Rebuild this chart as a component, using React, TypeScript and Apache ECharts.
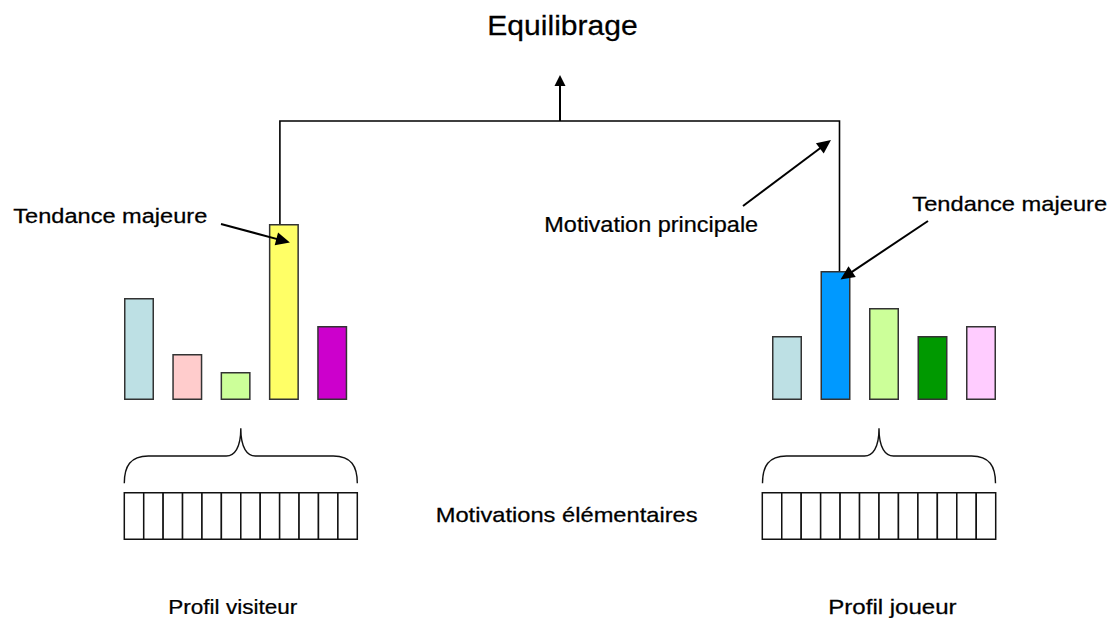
import React, { useEffect, useRef } from "react";
import * as echarts from "echarts";

// ---- data ----
const categories = ["M1", "M2", "M3", "M4", "M5"];
const visitorValues = [102, 46, 28, 176, 74];
const playerValues = [64, 129, 92, 64, 74];
const visitorColors = ["#BDE0E4", "#FFCCCC", "#CCFF99", "#FFFF66", "#CC00CC"];
const playerColors = ["#BDE0E4", "#0099FF", "#CCFF99", "#009900", "#FFCCFF"];
const visitorMajor = 3;
const playerMajor = 1;
const CELL_COUNT = 12;

const titleText = "Equilibrage";
const majorText = "Tendance majeure";
const mainText = "Motivation principale";
const elemText = "Motivations élémentaires";
const visitorLabel = "Profil visiteur";
const playerLabel = "Profil joueur";

const FONT = '"Liberation Sans", Arial, sans-serif';

const braceD =
  "M0,55 C0,38 6,27.7 24,27.7 L102,27.7 C110,27.7 116.5,20 116.5,0 C116.5,20 123,27.7 131,27.7 L209,27.7 C227,27.7 233,38 233,55";
echarts.graphic.registerShape("brace", echarts.graphic.extendPath(braceD, {}));

function measure(text: string, size: number) {
  const c = document.createElement("canvas").getContext("2d")!;
  c.font = `${size}px "Liberation Sans"`;
  return c.measureText(text).width;
}

function txt(text: string, left: number, cy: number, size: number, width: number) {
  const w = measure(text, size);
  return {
    type: "text",
    x: left,
    y: cy,
    z: 100,
    scaleX: width / w,
    silent: true,
    style: {
      text,
      fontSize: size,
      fontFamily: FONT,
      fill: "#000",
      stroke: "#000",
      lineWidth: 0.25,
      textAlign: "left",
      textVerticalAlign: "middle",
      verticalAlign: "middle",
    },
  };
}

function arrow(x1: number, y1: number, x2: number, y2: number, len = 12, half = 5.5, lw = 2) {
  const dx = x2 - x1;
  const dy = y2 - y1;
  const d = Math.sqrt(dx * dx + dy * dy);
  const ux = dx / d;
  const uy = dy / d;
  const bx = x2 - ux * len;
  const by = y2 - uy * len;
  return [
    {
      type: "line",
      silent: true,
      z: 100,
      shape: { x1, y1, x2: bx + ux * 2, y2: by + uy * 2 },
      style: { stroke: "#000", lineWidth: lw },
    },
    {
      type: "polygon",
      silent: true,
      z: 100,
      shape: {
        points: [
          [x2, y2],
          [bx - uy * half, by + ux * half],
          [bx + uy * half, by - ux * half],
        ],
      },
      style: { fill: "#000" },
    },
  ];
}

function cells(left: number, width: number, top: number, height: number) {
  const w = width / CELL_COUNT;
  const out: any[] = [];
  for (let i = 0; i < CELL_COUNT; i++) {
    out.push({
      type: "rect",
      silent: true,
      shape: { x: left + i * w, y: top, width: w, height },
      style: { fill: "#fff", stroke: "#111", lineWidth: 1.5 },
    });
  }
  return out;
}

export default function App() {
  const ref = useRef<HTMLDivElement>(null);
  useEffect(() => {
    const chart = echarts.init(ref.current!, null, { renderer: "svg" });
    const barSeries = (values: number[], colors: string[], idx: number) => ({
      type: "bar",
      xAxisIndex: idx,
      yAxisIndex: idx,
      barWidth: 30,
      silent: true,
      itemStyle: { borderColor: "#333", borderWidth: 1.5 },
      data: values.map((v, i) => ({ value: v, itemStyle: { color: colors[i] } })),
    });
    chart.setOption({
      animation: false,
      backgroundColor: "#fff",
      grid: [
        { left: 114.85, width: 241.5, top: 200, height: 200 },
        { left: 762.75, width: 242.5, top: 200, height: 200 },
      ],
      xAxis: [
        { type: "category", data: categories, gridIndex: 0, show: false },
        { type: "category", data: categories, gridIndex: 1, show: false },
      ],
      yAxis: [
        { type: "value", min: 0, max: 200, gridIndex: 0, show: false },
        { type: "value", min: 0, max: 200, gridIndex: 1, show: false },
      ],
      series: [
        barSeries(visitorValues, visitorColors, 0),
        barSeries(playerValues, playerColors, 1),
      ],
    });

    const vTop = chart.convertToPixel({ seriesIndex: 0 }, [visitorMajor, visitorValues[visitorMajor]]) as number[];
    const pTop = chart.convertToPixel({ seriesIndex: 1 }, [playerMajor, playerValues[playerMajor]]) as number[];
    const busY = 121;
    const lx = vTop[0] - 4;
    const rx = pTop[0] + 4;
    const midX = 560;

    const lineStyle = { stroke: "#000", lineWidth: 1.6 };
    const graphic: any[] = [
      {
        type: "polyline",
        silent: true,
        z: 100,
        shape: { points: [[lx, vTop[1]], [lx, busY], [rx, busY], [rx, pTop[1]]] },
        style: { ...lineStyle, fill: "none" },
      },
      ...arrow(midX, busY, midX, 75, 11, 5.5, 2),
      ...arrow(743, 206, 831, 140, 14, 6.5, 2),
      ...arrow(221, 224, vTop[0] + 6, 242.5, 14, 6.5, 2),
      ...arrow(928, 221, pTop[0] + 5, 279.5, 14, 6.5, 2),
      {
        type: "brace",
        silent: true,
        x: 124.3,
        y: 428.3,
        style: { fill: "none", stroke: "#111", lineWidth: 1.4 },
      },
      {
        type: "brace",
        silent: true,
        x: 762.5,
        y: 428.3,
        style: { fill: "none", stroke: "#111", lineWidth: 1.4 },
      },
      ...cells(124.3, 233, 492.7, 46.6),
      ...cells(762.3, 233.4, 492.7, 46.6),
      txt(titleText, 487.3, 25, 28, 150.4),
      txt(majorText, 13.3, 216, 20, 194),
      txt(majorText, 912.3, 204, 20, 195),
      txt(mainText, 544.3, 224, 22, 214),
      txt(elemText, 435.7, 515, 21, 262),
      txt(visitorLabel, 168.3, 607, 20, 129),
      txt(playerLabel, 828.3, 607, 20, 128.4),
    ];
    chart.setOption({ graphic });
    return () => chart.dispose();
  }, []);
  return (
    <div
      ref={ref}
      style={{ position: "fixed", left: 0, top: 0, width: 1113, height: 618, background: "#fff" }}
    />
  );
}
